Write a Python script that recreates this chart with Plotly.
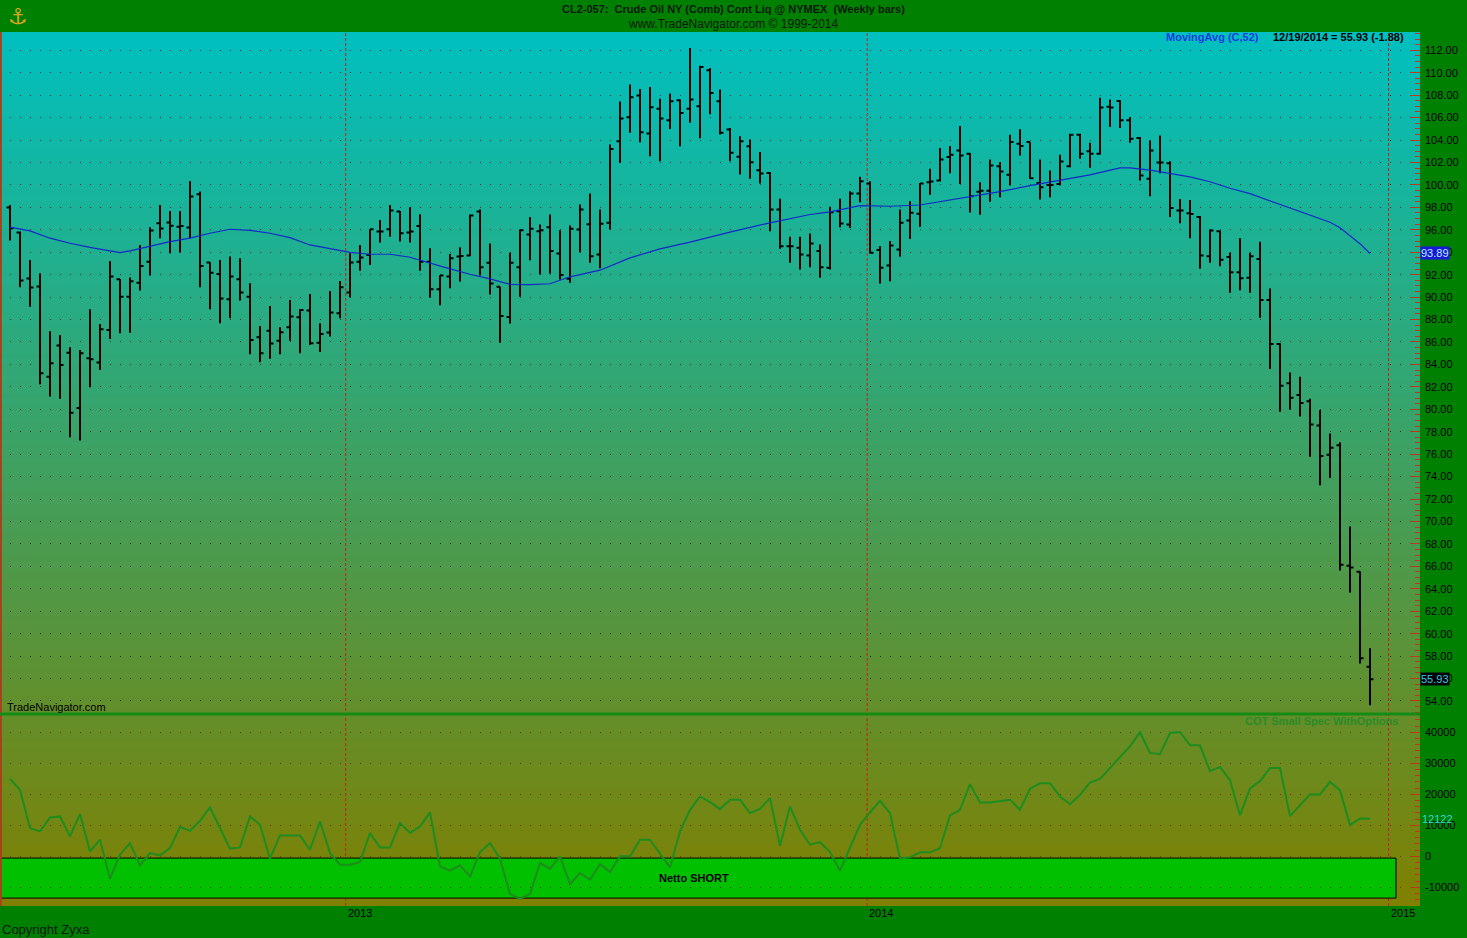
import plotly.graph_objects as go
import pandas as pd

# ---------------- data ----------------
first_week = "2012-05-11"
n_bars = 137
dates = pd.date_range(first_week, periods=n_bars, freq="7D")

opens = [97.98, 95.75, 91.65, 90.94, 82.91, 85.68, 85.05, 80.12, 84.55, 84.16,
         87.07, 91.59, 90.04, 91.29, 93.16, 96.58, 96.64, 96.28, 96.20, 99.17,
         93.08, 92.06, 89.81, 91.59, 90.04, 86.42, 87.00, 86.12, 87.31, 88.20,
         88.80, 85.94, 86.84, 88.56, 90.40, 93.16, 93.76, 95.84, 96.05, 97.62,
         95.75, 96.34, 93.16, 90.70, 91.83, 93.61, 93.71, 97.63, 93.06, 90.92,
         88.22, 92.67, 95.58, 95.88, 96.23, 93.89, 91.63, 96.03, 96.50, 93.80,
         96.62, 103.89, 106.03, 107.96, 104.58, 106.80, 105.77, 107.55, 106.80, 107.01,
         110.22, 107.46, 104.93, 102.50, 103.45, 101.31, 101.07, 97.81, 94.54, 94.39,
         93.71, 94.10, 92.61, 97.66, 96.47, 99.23, 100.12, 94.19, 92.82, 94.25,
         96.83, 97.42, 100.24, 100.39, 102.48, 103.07, 102.78, 99.40, 99.49, 101.67,
         100.90, 103.67, 103.82, 100.18, 100.00, 100.09, 101.67, 104.48, 102.99, 102.78,
         106.96, 107.49, 105.76, 104.18, 100.54, 102.00, 101.94, 97.73, 97.47, 97.15,
         93.64, 95.88, 93.58, 92.21, 91.73, 93.39, 89.75, 85.83, 82.32, 81.27,
         80.72, 78.56, 75.94, 76.80, 66.05, 65.51, 57.06]
highs = [98.22, 95.84, 93.31, 92.12, 86.95, 86.63, 85.53, 85.29, 88.92, 87.61,
         93.22, 91.62, 91.74, 94.65, 96.23, 98.22, 97.68, 97.68, 100.36, 99.41,
         93.10, 93.31, 93.61, 93.46, 91.23, 87.43, 89.21, 87.31, 89.75, 88.92,
         90.28, 87.67, 90.55, 91.44, 93.91, 94.65, 96.05, 96.88, 98.22, 97.68,
         98.00, 97.38, 94.35, 91.95, 93.85, 94.44, 97.36, 97.81, 94.78, 90.92,
         93.95, 96.03, 97.15, 96.47, 97.36, 95.97, 96.38, 98.25, 99.23, 97.81,
         103.60, 107.43, 108.94, 108.56, 108.73, 107.67, 108.14, 107.61, 112.20, 110.63,
         110.43, 108.50, 105.08, 104.34, 104.04, 102.94, 101.13, 98.76, 95.37, 95.37,
         95.67, 94.69, 98.05, 98.76, 99.44, 100.72, 100.33, 94.54, 94.99, 97.81,
         98.55, 100.18, 101.43, 103.28, 103.46, 105.25, 102.84, 100.24, 102.27, 102.03,
         104.48, 104.96, 103.82, 102.27, 101.28, 102.69, 104.57, 104.57, 103.76, 107.76,
         107.61, 107.55, 106.06, 104.27, 103.97, 104.40, 102.10, 98.75, 98.65, 97.22,
         96.03, 95.94, 93.96, 95.24, 93.96, 94.93, 90.77, 85.89, 83.28, 82.89,
         80.95, 79.93, 77.85, 77.06, 69.56, 65.57, 58.71]
lows = [95.04, 90.88, 89.15, 82.23, 81.13, 80.95, 77.50, 77.21, 81.96, 83.51,
        86.27, 86.78, 86.83, 90.58, 91.92, 95.25, 93.91, 93.97, 95.25, 90.88,
        88.92, 87.67, 88.11, 89.69, 84.90, 84.20, 84.50, 84.90, 86.12, 85.00,
        85.74, 85.10, 86.48, 88.11, 89.99, 92.36, 92.87, 94.86, 95.39, 94.95,
        94.86, 92.36, 89.96, 89.27, 90.79, 91.38, 93.65, 91.93, 90.24, 85.93,
        87.65, 90.03, 93.29, 92.02, 92.11, 91.57, 91.28, 94.00, 93.06, 92.58,
        96.03, 101.96, 104.64, 103.81, 102.56, 102.11, 104.99, 103.45, 105.53, 104.16,
        106.30, 104.49, 102.11, 100.93, 100.54, 100.12, 95.88, 94.30, 93.06, 92.46,
        92.67, 91.72, 92.46, 96.23, 96.17, 98.46, 93.89, 91.22, 91.42, 93.59,
        95.19, 96.26, 99.10, 100.30, 101.04, 100.09, 97.55, 97.34, 98.51, 98.90,
        99.94, 102.63, 100.54, 98.69, 98.90, 99.94, 101.58, 102.33, 101.52, 102.69,
        105.16, 105.07, 103.76, 100.39, 98.99, 101.04, 97.15, 96.58, 95.24, 92.53,
        93.07, 92.75, 90.39, 90.61, 90.39, 88.16, 83.60, 79.77, 79.99, 79.35,
        75.78, 73.23, 73.87, 65.64, 63.66, 57.34, 53.61]
closes = [96.14, 91.47, 90.85, 83.21, 84.10, 83.95, 79.70, 84.99, 84.46, 87.13,
          91.83, 90.04, 91.42, 92.78, 95.93, 96.11, 96.37, 96.34, 98.96, 92.78,
          92.18, 89.87, 91.83, 90.40, 86.18, 85.00, 85.87, 86.87, 88.26, 88.85,
          85.88, 86.72, 88.62, 90.88, 93.08, 93.52, 96.05, 95.84, 97.71, 95.69,
          95.84, 93.16, 90.70, 91.92, 93.46, 93.67, 97.27, 92.67, 91.22, 88.31,
          93.06, 95.97, 96.09, 95.97, 94.10, 91.96, 96.09, 97.81, 93.65, 96.53,
          103.21, 105.91, 107.81, 104.70, 106.92, 105.91, 107.46, 106.42, 107.61, 110.52,
          108.20, 104.64, 102.86, 103.89, 102.02, 101.01, 97.81, 94.54, 94.54, 93.80,
          94.78, 92.67, 97.57, 96.56, 99.23, 100.33, 93.95, 92.61, 94.60, 96.62,
          97.51, 100.12, 100.30, 102.27, 102.69, 102.63, 98.99, 99.49, 101.73, 101.19,
          103.82, 103.46, 100.60, 99.79, 100.00, 102.09, 104.48, 102.78, 102.78, 106.90,
          106.90, 105.76, 104.12, 100.84, 103.07, 102.00, 97.95, 97.73, 97.41, 93.71,
          95.94, 93.32, 92.21, 91.67, 93.64, 89.75, 85.83, 82.10, 81.04, 80.56,
          78.65, 75.84, 76.58, 66.15, 65.89, 57.81, 55.93]

# 52-week moving average at these bar numbers
ma_bars = [1, 3, 5, 7, 9, 11, 12, 13, 15, 17, 19, 21, 23, 25, 27, 29, 31, 33, 35,
           37, 39, 41, 43, 45, 47, 49, 51, 53, 55, 57, 60, 63, 66, 69, 73, 77, 81,
           83, 86, 89, 92, 94, 97, 100, 103, 106, 109, 112, 113, 115, 117, 119,
           121, 123, 125, 127, 129, 131, 133, 134, 135, 136, 137]
ma_values = [96.23, 95.90, 95.25, 94.80, 94.44, 94.12, 93.97, 94.12, 94.56, 94.95,
             95.25, 95.69, 96.05, 95.95, 95.69, 95.30, 94.65, 94.30, 93.98, 93.82,
             93.82, 93.55, 93.02, 92.51, 92.04, 91.63, 91.13, 91.12, 91.19, 91.81,
             92.40, 93.50, 94.30, 94.90, 95.79, 96.62, 97.36, 97.60, 98.16, 98.10,
             98.21, 98.51, 98.99, 99.40, 99.94, 100.39, 100.90, 101.52, 101.52, 101.32,
             101.04, 100.72, 100.28, 99.70, 99.22, 98.59, 97.95, 97.31, 96.67, 96.19,
             95.49, 94.76, 93.89]

# COT small speculators net position (with options)
cot_values = [25000, 21460, 9120, 8050, 12550, 12880, 6440, 13630, 1610, 5360,
              -7190, 540, 4290, -2900, 1070, 320, 2680, 9440, 8260, 11480,
              15770, 9120, 2470, 2900, 12880, 10190, -750, 6760, 6760, 6760,
              2150, 11270, 1070, -2680, -2680, -1820, 7510, 2900, 2900, 10730,
              7510, 9660, 14160, -3220, -4610, -2900, -6440, 1390, 4290, -750,
              -12120, -13630, -12120, -2150, -3970, 0, -8910, -5360, -7510, -2470,
              -5040, 0, 0, 5360, 5360, 750, -3540, 8050, 15020, 19310,
              17490, 15240, 18240, 18240, 13950, 15340, 18780, 3430, 16090, 8580,
              3760, 4610, 1390, -4610, 2680, 10190, 14160, 17920, 13950, -750,
              -320, 1290, 1290, 2680, 13200, 15020, 23280, 17380, 17380, 17700,
              18240, 15020, 21780, 23600, 23600, 19310, 16850, 19850, 23820, 25000,
              28500, 32000, 35500, 40000, 33350, 32920, 39790, 40110, 35820, 35820,
              27450, 28850, 24560, 13300, 21880, 24240, 28530, 28530, 12980, 16510,
              19950, 19950, 24020, 21340, 10080, 12230, 12122]

price_ticks = list(range(54, 113, 2))
cot_ticks = [-10000, 0, 10000, 20000, 30000, 40000]
year_marks = ["2013-01-01", "2014-01-01", "2015-01-01"]
year_labels = ["2013", "2014", "2015"]
ma_last = 93.89
last_close = 55.93
cot_last = 12122

# ---------------- layout helpers ----------------
W, H = 1467, 938
ML, MR, MT, MB = 0, 47, 32, 32
PW, PH = W - ML - MR, H - MT - MB


def px(x):
    return x / PW


def py(y):
    return (H - MB - y) / PH


FONT = "Arial, Liberation Sans, sans-serif"
ma_dates = [dates[b - 1] for b in ma_bars]

fig = go.Figure()
fig.add_trace(go.Ohlc(
    x=dates, open=opens, high=highs, low=lows, close=closes,
    increasing=dict(line=dict(color="black", width=2)),
    decreasing=dict(line=dict(color="black", width=2)),
    tickwidth=0.35, xaxis="x", yaxis="y", showlegend=False, hoverinfo="skip"))
fig.add_trace(go.Scatter(
    x=ma_dates, y=ma_values, mode="lines",
    line=dict(color="#1428c8", width=1.2), xaxis="x", yaxis="y",
    showlegend=False, hoverinfo="skip"))
fig.add_trace(go.Scatter(
    x=dates, y=cot_values, mode="lines",
    line=dict(color="#1e8c1e", width=2), xaxis="x", yaxis="y2",
    showlegend=False, hoverinfo="skip"))

shapes = []
# vertical gradient background (cyan -> olive)
N = 150
top_c = (0, 192, 192)
bot_c = (128, 128, 0)
for k in range(N):
    f = 1 - (k + 0.5) / N
    c = tuple(int(round(top_c[i] + (bot_c[i] - top_c[i]) * f)) for i in range(3))
    shapes.append(dict(type="rect", xref="paper", yref="paper",
                       x0=0, x1=1, y0=k / N, y1=min(1, (k + 1.6) / N),
                       fillcolor="rgb(%d,%d,%d)" % c, line=dict(width=0),
                       layer="below"))
# year separators
for d in year_marks:
    shapes.append(dict(type="line", xref="x", yref="paper", x0=d, x1=d, y0=0, y1=1,
                       line=dict(color="#c02418", width=1, dash="3px,2px"),
                       layer="below"))
# left edge line
shapes.append(dict(type="line", xref="paper", yref="paper", x0=0.0006, x1=0.0006,
                   y0=0, y1=1, line=dict(color="#a8401c", width=2), layer="above"))
split = py(714)
# Netto SHORT zone
shapes.append(dict(type="rect", xref="paper", yref="y2", x0=0, x1=px(1396),
                   y0=-13450, y1=-550, fillcolor="#00c000",
                   line=dict(color="black", width=1), layer="between"))
# pane separator
shapes.append(dict(type="line", xref="paper", yref="paper", x0=0, x1=1,
                   y0=split, y1=split, line=dict(color="#148c14", width=3),
                   layer="above"))

annotations = [
    dict(text="<b>CL2-057:  Crude Oil NY (Comb) Cont Liq @ NYMEX  (Weekly bars)</b>",
         xref="paper", yref="paper", x=px(733), y=py(9), showarrow=False,
         font=dict(family=FONT, size=11, color="#0a1a0a"), xanchor="center", yanchor="middle"),
    dict(text="www.TradeNavigator.com © 1999-2014",
         xref="paper", yref="paper", x=px(733), y=py(24), showarrow=False,
         font=dict(family=FONT, size=12, color="#0a1a0a"), xanchor="center", yanchor="middle"),
    dict(text="⚓", xref="paper", yref="paper", x=px(18), y=py(16), showarrow=False,
         font=dict(family="DejaVu Sans", size=22, color="#d8a818"), xanchor="center", yanchor="middle"),
    dict(text="<b>MovingAvg (C,52)</b>", xref="paper", yref="paper", x=px(1261), y=py(37),
         showarrow=False, font=dict(family=FONT, size=11, color="#1e3ce0"),
         xanchor="right", yanchor="middle"),
    dict(text="<b>12/19/2014 = %.2f (-1.88)</b>" % last_close, xref="paper", yref="paper",
         x=px(1271), y=py(37), showarrow=False,
         font=dict(family=FONT, size=11, color="black"), xanchor="left", yanchor="middle"),
    dict(text="TradeNavigator.com", xref="paper", yref="paper", x=px(5), y=py(707),
         showarrow=False, font=dict(family=FONT, size=11, color="black"),
         xanchor="left", yanchor="middle"),
    dict(text="<b>COT Small Spec WithOptions</b>", xref="paper", yref="paper",
         x=px(1400), y=py(721), showarrow=False,
         font=dict(family=FONT, size=11, color="#2a8c2a"), xanchor="right", yanchor="middle"),
    dict(text="<b>Netto SHORT</b>", xref="paper", yref="paper", x=px(694), y=py(878),
         showarrow=False, font=dict(family=FONT, size=11, color="black"),
         xanchor="center", yanchor="middle"),
    dict(text="Copyright Zyxa", xref="paper", yref="paper", x=0, y=py(930),
         showarrow=False, font=dict(family=FONT, size=13, color="#0a1a0a"),
         xanchor="left", yanchor="middle"),
    dict(text="%.2f" % ma_last, xref="paper", yref="y", x=1.0, y=ma_last, showarrow=False,
         font=dict(family=FONT, size=11, color="#b8f0ff"), bgcolor="#1818d8",
         borderpad=0, xanchor="left", yanchor="middle"),
    dict(text="%.2f" % last_close, xref="paper", yref="y", x=1.0, y=last_close,
         showarrow=False, font=dict(family=FONT, size=11, color="#38c8e8"),
         bgcolor="black", borderpad=0, xanchor="left", yanchor="middle"),
    dict(text=str(cot_last), xref="paper", yref="y2", x=1.0, y=cot_last, showarrow=False,
         font=dict(family=FONT, size=11, color="#30d8d8"), xanchor="left", yanchor="middle"),
]
for d, lab in zip(year_marks, year_labels):
    annotations.append(dict(text=lab, xref="x", yref="paper", x=d, y=py(913),
                            showarrow=False, xanchor="left", yanchor="middle", xshift=0,
                            font=dict(family=FONT, size=11, color="black")))

fig.update_layout(
    width=W, height=H,
    margin=dict(l=ML, r=MR, t=MT, b=MB, pad=0),
    paper_bgcolor="#008000", plot_bgcolor="rgba(0,0,0,0)",
    showlegend=False,
    shapes=shapes, annotations=annotations,
    xaxis=dict(type="date", domain=[0, 1], anchor="y2",
               range=["2012-05-04", "2015-01-23"],
               showgrid=False, showticklabels=False, ticks="", zeroline=False,
               showline=False, rangeslider=dict(visible=False)),
    yaxis=dict(domain=[split, 1], anchor="x", side="right",
               range=[52.84, 113.63], tickmode="array", tickvals=price_ticks,
               ticktext=["%.2f" % v for v in price_ticks],
               ticks="inside", ticklen=10, tickcolor="#b83a1a", tickwidth=1,
               minor=dict(tickmode="linear", tick0=54, dtick=0.5, ticks="inside",
                          ticklen=5, tickcolor="#b83a1a", tickwidth=1, showgrid=False),
               showgrid=True, gridcolor="rgba(25,25,25,0.85)", gridwidth=1,
               griddash="1px,9px", zeroline=False, showline=False,
               ticklabelstandoff=4,
               tickfont=dict(family=FONT, size=11, color="black")),
    yaxis2=dict(domain=[0, split], anchor="x", side="right",
                range=[-16000, 45900], tickmode="array", tickvals=cot_ticks,
                ticktext=[str(v) for v in cot_ticks],
                ticks="inside", ticklen=10, tickcolor="#b83a1a", tickwidth=1,
                minor=dict(tickmode="linear", tick0=0, dtick=2000, ticks="inside",
                           ticklen=5, tickcolor="#b83a1a", tickwidth=1, showgrid=False),
                showgrid=True, gridcolor="rgba(120,40,15,0.9)", gridwidth=1,
                griddash="1px,9px", zeroline=False, showline=False,
                ticklabelstandoff=4,
                tickfont=dict(family=FONT, size=11, color="black")),
)

fig.write_html(
    "out.html",
    config={"displayModeBar": False},
    post_script="document.body.style.margin='0';document.body.style.padding='0';"
                "document.body.style.overflow='hidden';"
                "document.documentElement.style.background='#008000';",
)
